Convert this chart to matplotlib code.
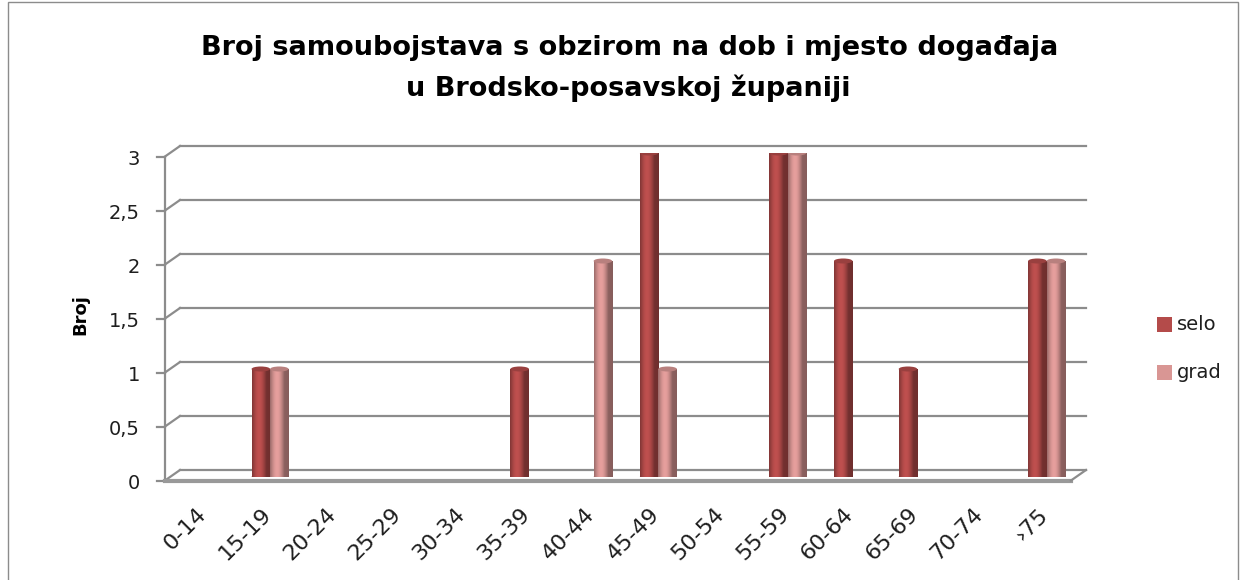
import numpy as np
import matplotlib
matplotlib.use("Agg")
import matplotlib.pyplot as plt
from matplotlib.patches import Ellipse, Rectangle
from matplotlib.colors import to_rgb

categories = ['0-14', '15-19', '20-24', '25-29', '30-34', '35-39', '40-44',
              '45-49', '50-54', '55-59', '60-64', '65-69', '70-74', '\u203a75']
selo = [0, 1, 0, 0, 0, 1, 0, 3, 0, 3, 2, 1, 0, 2]
grad = [0, 1, 0, 0, 0, 0, 2, 1, 0, 3, 0, 0, 0, 2]
series = [('selo', selo, '#B44B4A'), ('grad', grad, '#D99694')]
yticks = [0, 0.5, 1, 1.5, 2, 2.5, 3]
ytick_labels = ['0', '0,5', '1', '1,5', '2', '2,5', '3']
title1 = 'Broj samoubojstava s obzirom na dob i mjesto događaja'
title2 = 'u Brodsko-posavskoj županiji'

W, H = 1242, 580
fig = plt.figure(figsize=(W / 100, H / 100), dpi=100)
ax = fig.add_axes([173 / W, (H - 477) / H, 906 / W, 324 / H])
n = len(categories)
ax.set_xlim(-0.5, n - 0.5)
ax.set_ylim(0, 3)
ax.axis('off')

# pixel -> data helpers for the fake 3d depth
pxx = n / 906.0
pxy = 3 / 324.0
front = (-8 * pxx, -3.5 * pxy)
back = (7 * pxx, 7 * pxy)
grid_c = '#8C8C8C'
txt_c = '#1E1E1E'

x0, x1 = -0.5, n - 0.5
for v, lab in zip(yticks, ytick_labels):
    # back wall grid line
    ax.plot([x0 + back[0], x1 + back[0]], [v + back[1], v + back[1]],
            color=grid_c, lw=1.6, clip_on=False, zorder=1)
    # diagonal from front axis to back wall
    ax.plot([x0 + front[0], x0 + back[0]], [v + front[1], v + back[1]],
            color=grid_c, lw=1.6, clip_on=False, zorder=1)
    # tick mark
    ax.plot([x0 + front[0] - 8 * pxx, x0 + front[0]], [v + front[1], v + front[1]],
            color=grid_c, lw=1.6, clip_on=False, zorder=1)
    ax.text(x0 + front[0] - 25 * pxx, v + front[1] - 3 * pxy, lab,
            ha='right', va='center', fontsize=14, family='DejaVu Sans', color=txt_c)

# front y axis
ax.plot([x0 + front[0]] * 2, [0 + front[1], 3 + front[1]], color=grid_c, lw=1.6,
        clip_on=False, zorder=1)
# floor front edge and right corner
ax.plot([x0 + front[0], x1 + front[0]], [front[1], front[1]], color='#999999', lw=3,
        clip_on=False, zorder=1)
ax.plot([x1 + front[0], x1 + back[0]], [front[1], back[1]], color=grid_c, lw=1.6,
        clip_on=False, zorder=1)

# cylinders
bw = 18.5 * pxx
t = np.linspace(0, 1, 40)
shade = 0.72 + 0.38 * np.sin(np.pi * np.clip(t * 1.3, 0, 1)) - 0.1 * t
for k, (name, vals, col) in enumerate(series):
    base = np.array(to_rgb(col))
    grad_img = np.clip(base[None, :] * shade[:, None], 0, 1)[None, :, :]
    for i, v in enumerate(vals):
        if v <= 0:
            continue
        left = i - bw + k * bw
        ax.imshow(grad_img, extent=(left, left + bw, 0, v), aspect='auto',
                  zorder=3, interpolation='bilinear')
        ax.add_patch(Ellipse((left + bw / 2, v), bw, 5 * pxy,
                             facecolor=np.clip(base * 0.85, 0, 1), edgecolor='none',
                             zorder=4))
        ax.add_patch(Ellipse((left + bw / 2, 0), bw, 5 * pxy,
                             facecolor=np.clip(base * 0.8, 0, 1), edgecolor='none',
                             zorder=2))
ax.set_xlim(-0.5, n - 0.5)
ax.set_ylim(0, 3)

# x labels
for i, c in enumerate(categories):
    ax.text(i - 2 * pxx, -34 * pxy, c, rotation=45, rotation_mode='anchor',
            ha='right', va='center', fontsize=16, family='DejaVu Sans', color=txt_c)

ax.text(-0.5 - 93 * pxx, 1.5, 'Broj', rotation=90, ha='center', va='center',
        fontsize=13, fontweight='bold', family='DejaVu Sans', color='black')

fig.text(630 / W, 1 - 48 / H, title1, ha='center', va='center', fontsize=19.5,
         fontweight='bold', family='DejaVu Sans')
fig.text(628 / W, 1 - 88 / H, title2, ha='center', va='center', fontsize=19.5,
         fontweight='bold', family='DejaVu Sans')

# legend
for k, (name, vals, col) in enumerate(series):
    yk = 1 - (324 + 48 * k) / H
    fig.patches.append(Rectangle((1157 / W, yk - 7.5 / H), 15 / W, 15 / H,
                                 transform=fig.transFigure, facecolor=col,
                                 edgecolor='none'))
    fig.text(1177 / W, yk, name, ha='left', va='center', fontsize=14,
             family='DejaVu Sans', color=txt_c)

fig.patches.append(Rectangle((8 / W, -0.02), 1230 / W, 1.02 - 2 / H,
                             transform=fig.transFigure, fill=False,
                             edgecolor='#8C8C8C', lw=1))

fig.savefig('out.png', dpi=100)
